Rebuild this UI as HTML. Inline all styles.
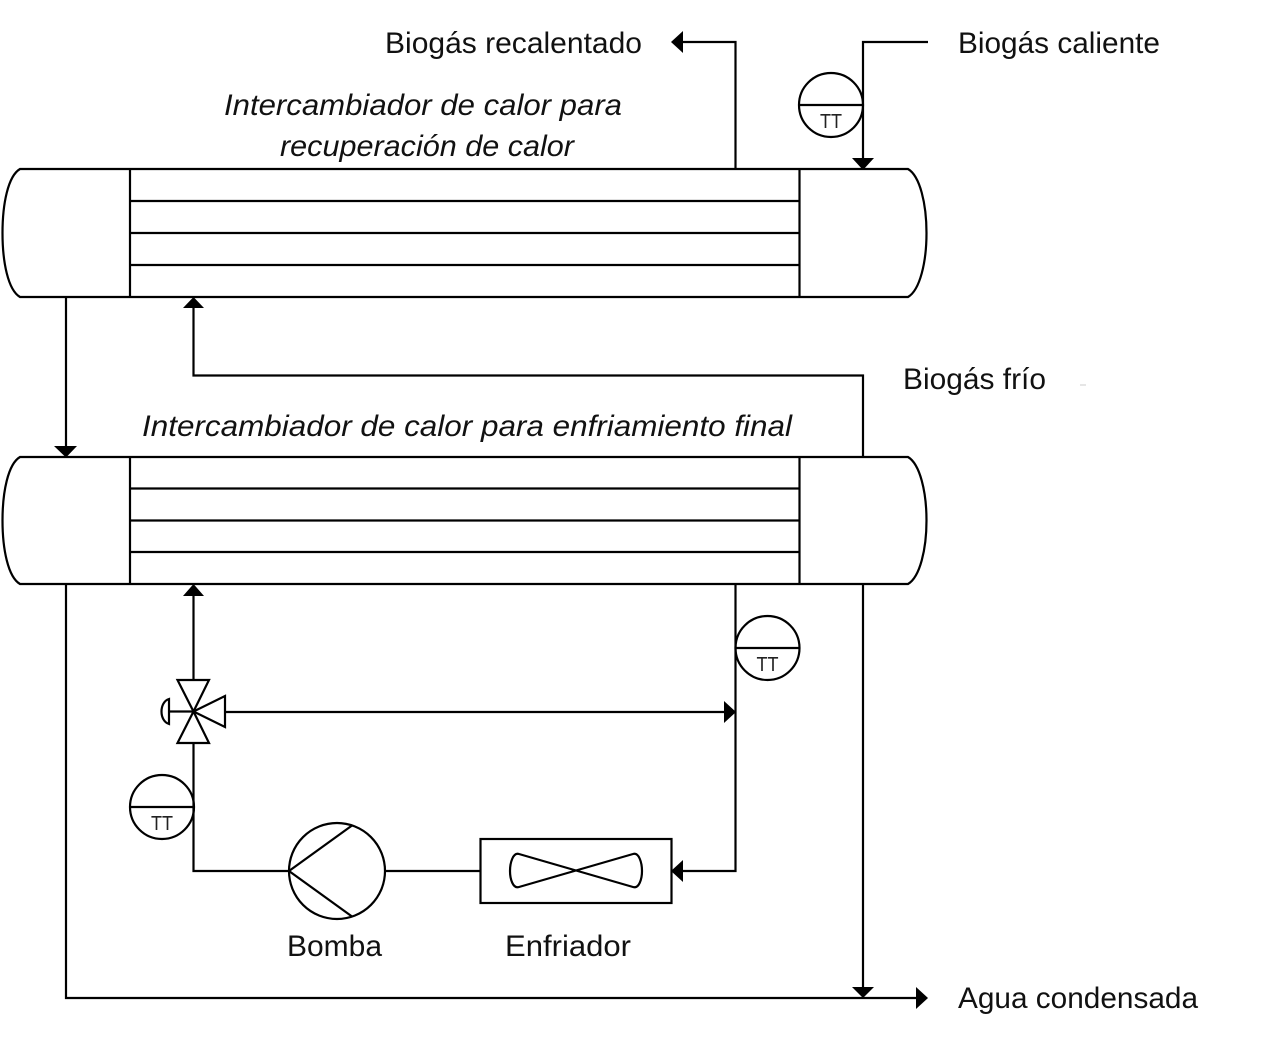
<!DOCTYPE html>
<html>
<head>
<meta charset="utf-8">
<style>
html,body{margin:0;padding:0;background:#fff;width:1286px;height:1047px;overflow:hidden}
svg{display:block}
text{font-family:"Liberation Sans",sans-serif;fill:#111}
.l{font-size:30px}
.i{font-size:30px;font-style:italic}
.t{font-size:20px;fill:#222}
</style>
</head>
<body>
<svg width="1286" height="1047" viewBox="0 0 1286 1047" xmlns="http://www.w3.org/2000/svg">
<g fill="none" stroke="#000" stroke-width="2.200">
  <!-- Exchanger 1 -->
  <path d="M20 169H908C920 176 926.500 204 926.500 233C926.500 262 920 290 908 297H20C8 290 2.500 262 2.500 233C2.500 204 8 176 20 169Z"/>
  <path d="M130 169V297M799.500 169V297M130 201H799.500M130 233H799.500M130 265H799.500"/>
  <!-- Exchanger 2 -->
  <path d="M20 457H908C920 464 926.500 492 926.500 520.500C926.500 549 920 577 908 584H20C8 577 2.500 549 2.500 520.500C2.500 492 8 464 20 457Z"/>
  <path d="M130 457V584M799.500 457V584M130 488.500H799.500M130 520.500H799.500M130 552H799.500"/>
  <!-- Connectors -->
  <path d="M735.500 169V42H680"/>
  <path d="M928 42H863V160"/>
  <path d="M66 297V448"/>
  <path d="M193.500 306V375.500H863V457"/>
  <path d="M863 584V990"/>
  <path d="M66 584V998H918"/>
  <path d="M735.500 584V871H681"/>
  <path d="M193.500 592V680"/>
  <path d="M225 712H726"/>
  <path d="M193.500 743V871H289"/>
  <path d="M385 871H480"/>
  <!-- Instruments -->
  <circle cx="831" cy="105" r="32"/><path d="M799 105H863"/>
  <circle cx="767.500" cy="648" r="32"/><path d="M735.500 648H799.500"/>
  <circle cx="162" cy="807" r="32"/><path d="M130 807H194"/>
  <!-- Valve -->
  <path d="M177.500 680H209L193.500 711.500Z"/>
  <path d="M177.500 743H209L193.500 711.500Z"/>
  <path d="M225 696V727L193.500 711.500Z"/>
  <path d="M193.500 711.500H169"/>
  <path d="M169 699V724C159 721 159 702 169 699Z"/>
  <!-- Pump -->
  <circle cx="337" cy="871" r="48"/>
  <path d="M352 825.500L289 871L352 916.500"/>
  <!-- Cooler -->
  <rect x="480.500" y="839" width="191" height="64"/>
  <path d="M519 854L633 887C639 889 642 879 642 871C642 863 639 852 633 854L519 887C513 889 510 879 510 871C510 863 513 852 519 854Z"/>
</g>
<!-- Arrowheads -->
<g fill="#000" stroke="none">
  <path d="M671 42L683 31V53Z"/>
  <path d="M863 170L852 158H874Z"/>
  <path d="M66 457.500L54 446H77Z"/>
  <path d="M193.500 297L183 308H204Z"/>
  <path d="M863 998L852 987H874Z"/>
  <path d="M928 998L916 987V1009Z"/>
  <path d="M193.500 584L183 596H204Z"/>
  <path d="M736 712L724 701V723Z"/>
  <path d="M671 871L683 860V882Z"/>
</g>
<path d="M1080 385H1086" stroke="#ccc" stroke-width="1"/>
<!-- Labels -->
<text class="l" x="385" y="53" textLength="257" lengthAdjust="spacingAndGlyphs">Biogás recalentado</text>
<text class="l" x="958" y="53" textLength="202" lengthAdjust="spacingAndGlyphs">Biogás caliente</text>
<text class="l" x="903" y="389" textLength="143" lengthAdjust="spacingAndGlyphs">Biogás frío</text>
<text class="l" x="287" y="956" textLength="95" lengthAdjust="spacingAndGlyphs">Bomba</text>
<text class="l" x="505" y="956" textLength="126" lengthAdjust="spacingAndGlyphs">Enfriador</text>
<text class="l" x="958" y="1008" textLength="240" lengthAdjust="spacingAndGlyphs">Agua condensada</text>
<text class="i" x="224" y="115" textLength="398" lengthAdjust="spacingAndGlyphs">Intercambiador de calor para</text>
<text class="i" x="280" y="156" textLength="294" lengthAdjust="spacingAndGlyphs">recuperación de calor</text>
<text class="i" x="142" y="436" textLength="650" lengthAdjust="spacingAndGlyphs">Intercambiador de calor para enfriamiento final</text>
<text class="t" x="820" y="128" textLength="22" lengthAdjust="spacingAndGlyphs">TT</text>
<text class="t" x="756.500" y="671" textLength="22" lengthAdjust="spacingAndGlyphs">TT</text>
<text class="t" x="151" y="830" textLength="22" lengthAdjust="spacingAndGlyphs">TT</text>
</svg>
</body>
</html>
